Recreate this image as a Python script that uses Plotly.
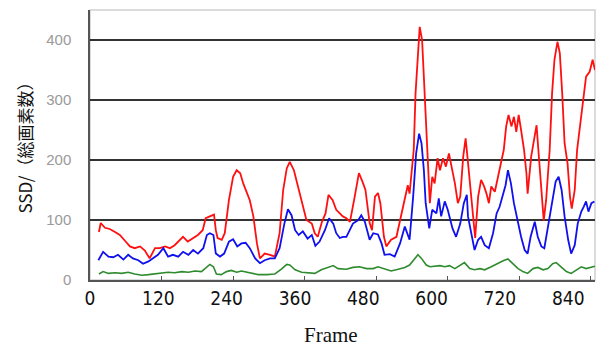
import plotly.graph_objects as go

# ---- data ----
red_frame = [15, 18, 25, 33, 42, 50, 59, 67, 75, 84, 92, 100, 109, 117, 126, 134, 142, 151, 156, 164,
             173, 181, 189, 194, 201, 208, 211, 214, 221, 226, 233, 240, 246, 252, 257, 262, 268, 274, 280, 285,
             293, 302, 310, 318, 324, 330, 335, 342, 349, 357, 363, 372, 377, 382, 389, 395, 400, 407, 413, 419,
             424, 430, 436, 444, 451, 457, 462, 469, 473, 478, 483, 487, 493, 497, 505, 514, 520, 528, 533, 536,
             539, 543, 546, 549, 553, 557, 560, 564, 567, 570, 574, 578, 583, 587, 592, 597, 602, 608, 612, 617,
             621, 626, 630, 633, 637, 641, 644, 646, 651, 656, 661, 665, 669, 673, 679, 684, 690, 694, 698, 702,
             707, 711, 715, 719, 723, 728, 732, 734, 740, 745, 749, 752, 757, 761, 765, 771, 775, 779, 784, 788,
             792, 796, 801, 805, 808, 813, 817, 823, 827, 832, 838, 843, 847]
red_ssd = [80, 95, 87, 85, 80, 75, 65, 56, 53, 56, 49, 36, 53, 53, 56, 53, 58, 67, 72, 64,
           70, 75, 83, 103, 106, 109, 83, 70, 67, 78, 133, 172, 183, 178, 161, 147, 133, 106, 61, 36,
           44, 42, 39, 78, 150, 186, 197, 183, 156, 122, 100, 94, 78, 72, 97, 111, 142, 133, 117, 111,
           106, 103, 97, 139, 178, 164, 150, 95, 83, 139, 145, 128, 72, 56, 67, 72, 100, 139, 158, 144,
           172, 217, 311, 367, 422, 400, 339, 250, 206, 128, 172, 161, 203, 183, 203, 189, 211, 183, 161, 128,
           139, 206, 236, 206, 167, 117, 89, 70, 139, 167, 156, 144, 128, 156, 147, 172, 197, 217, 256, 275,
           256, 272, 247, 275, 250, 217, 178, 144, 206, 239, 258, 217, 150, 99, 133, 217, 311, 367, 397, 378,
           311, 228, 194, 139, 119, 150, 217, 267, 294, 339, 347, 367, 350]

blue_frame = [14, 22, 31, 39, 47, 56, 64, 72, 81, 89, 98, 106, 114, 123, 131, 139, 148, 156, 165, 173,
              181, 190, 196, 201, 207, 211, 218, 225, 233, 240, 247, 254, 261, 268, 277, 285, 293, 302, 310, 318,
              326, 332, 338, 344, 350, 357, 365, 372, 378, 385, 394, 401, 408, 413, 419, 424, 430, 441, 450, 455,
              461, 469, 475, 483, 489, 494, 503, 511, 520, 528, 536, 542, 547, 552, 556, 560, 563, 569, 574, 581,
              585, 589, 595, 600, 608, 614, 621, 627, 632, 634, 640, 645, 651, 656, 662, 669, 676, 682, 687, 693,
              697, 701, 706, 711, 717, 723, 729, 734, 739, 746, 751, 757, 762, 768, 775, 781, 786, 791, 796, 802,
              807, 813, 818, 824, 828, 832, 836, 841, 846]
blue_ssd = [33, 47, 39, 38, 42, 34, 42, 36, 33, 27, 31, 36, 42, 53, 39, 42, 39, 47, 42, 50,
            44, 53, 75, 78, 75, 44, 39, 44, 64, 68, 56, 61, 62, 53, 36, 28, 33, 36, 36, 53,
            94, 118, 108, 83, 75, 81, 69, 75, 57, 64, 83, 103, 94, 78, 70, 72, 72, 94, 100, 108,
            97, 67, 78, 76, 61, 42, 43, 39, 61, 89, 67, 139, 211, 244, 228, 183, 128, 86, 117, 111,
            136, 106, 131, 117, 86, 72, 94, 128, 142, 106, 72, 50, 67, 72, 58, 53, 78, 111, 122, 142,
            158, 183, 161, 128, 100, 72, 50, 44, 72, 97, 72, 56, 53, 89, 133, 164, 172, 150, 106, 67,
            44, 58, 94, 114, 122, 131, 114, 128, 131]

green_frame = [15, 22, 31, 42, 53, 64, 75, 87, 98, 109, 120, 131, 142, 154, 165, 176, 187, 196, 201, 207,
               212, 220, 229, 237, 246, 254, 262, 271, 282, 296, 310, 321, 330, 335, 344, 355, 366, 377, 388, 399,
               408, 416, 424, 430, 441, 452, 464, 475, 483, 494, 505, 517, 528, 536, 545, 550, 556, 564, 570, 578,
               587, 595, 603, 612, 620, 628, 637, 645, 654, 662, 673, 684, 693, 701, 709, 718, 726, 734, 743, 751,
               760, 768, 776, 782, 791, 799, 807, 816, 824, 832, 841, 847]
green_ssd = [10, 14, 11, 12, 11, 13, 10, 8, 9, 10, 12, 13, 12, 14, 13, 15, 14, 22, 26, 22,
             10, 9, 14, 16, 13, 15, 13, 11, 9, 9, 10, 18, 26, 25, 17, 13, 12, 11, 17, 21,
             24, 19, 18, 18, 21, 22, 19, 19, 22, 18, 15, 18, 21, 25, 36, 42, 36, 25, 22, 23,
             24, 22, 24, 19, 24, 29, 19, 17, 19, 17, 22, 28, 32, 35, 28, 19, 14, 11, 19, 21,
             17, 19, 27, 29, 21, 14, 11, 17, 22, 19, 22, 23]

x_ticks = [0, 120, 240, 360, 480, 600, 720, 840]
x_tick_text = ["0", "120", "240", "360", "480", "600", "720", "840"]
y_ticks = [0, 100, 200, 300, 400]
y_tick_text = ["0", "100", "200", "300", "400"]

fig = go.Figure()
fig.add_trace(go.Scatter(x=red_frame, y=red_ssd, mode="lines",
                         line=dict(color="#ff1010", width=1.8), showlegend=False))
fig.add_trace(go.Scatter(x=blue_frame, y=blue_ssd, mode="lines",
                         line=dict(color="#1010ee", width=1.8), showlegend=False))
fig.add_trace(go.Scatter(x=green_frame, y=green_ssd, mode="lines",
                         line=dict(color="#2e8b2e", width=1.6), showlegend=False))
# empty trace to carry the label axis
fig.add_trace(go.Scatter(x=[None], y=[None], xaxis="x2", showlegend=False, hoverinfo="skip"))

fig.update_layout(
    width=607, height=346,
    margin=dict(l=90, r=12, t=10, b=66),
    paper_bgcolor="white", plot_bgcolor="white",
    xaxis=dict(range=[0, 847], tickvals=x_ticks, showticklabels=False,
               ticks="inside", ticklen=4, tickcolor="#555", tickwidth=1,
               showgrid=False, zeroline=False, showline=True,
               linecolor="#555", linewidth=1.5),
    xaxis2=dict(overlaying="x", anchor="y", side="bottom", range=[0, 887],
                tickvals=x_ticks, ticktext=x_tick_text, ticks="",
                showgrid=False, zeroline=False, showline=False,
                ticklabelstandoff=5,
                tickfont=dict(family="Liberation Sans Narrow, DejaVu Sans Condensed, Arial Narrow, sans-serif",
                              size=19, color="#111")),
    yaxis=dict(range=[0, 450], tickvals=y_ticks, ticktext=y_tick_text,
               showgrid=True, gridcolor="#333", gridwidth=1.5,
               zeroline=False, showline=True, linecolor="#555", linewidth=1.5,
               ticks="", ticklabelstandoff=14,
               tickfont=dict(family="Liberation Sans, Arial, sans-serif", size=15, color="#9a9a9a")),
    shapes=[dict(type="rect", xref="paper", yref="paper", x0=0, x1=1, y0=0, y1=1,
                 line=dict(color="#cfcfcf", width=1.5), layer="below")],
    annotations=[
        dict(text="Frame", xref="paper", yref="paper", x=0.477, y=-0.204,
             xanchor="center", yanchor="middle", showarrow=False,
             font=dict(family="Liberation Serif, Times New Roman, serif", size=21, color="#111")),
        dict(text="SSD/（総画素数）", xref="paper", yref="paper", x=-0.129, y=0.505,
             xanchor="center", yanchor="middle", textangle=-90, showarrow=False,
             font=dict(family="Noto Sans CJK JP, sans-serif", size=17, color="#111")),
    ],
)

fig.write_html("out.html", config={"displayModeBar": False},
               post_script="document.body.style.margin='0';")
